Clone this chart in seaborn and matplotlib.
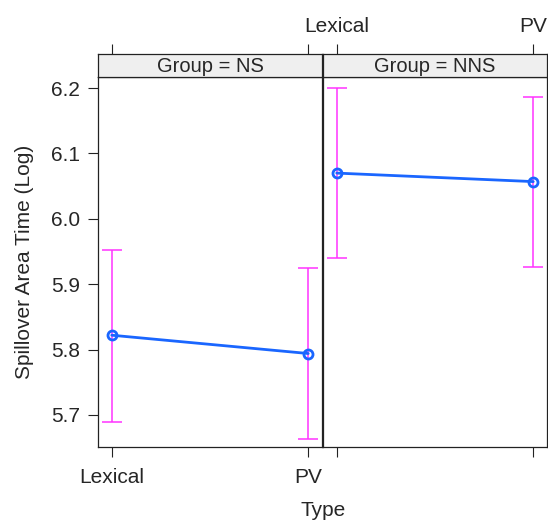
import numpy as np
import pandas as pd
import matplotlib
matplotlib.use("Agg")
import matplotlib.pyplot as plt
import seaborn as sns

# effect estimates
groups = ["NS", "NNS"]
types = ["Lexical", "PV"]
fit = {"NS": [5.822, 5.794], "NNS": [6.070, 6.057]}
lower = {"NS": [5.690, 5.663], "NNS": [5.940, 5.927]}
upper = {"NS": [5.953, 5.925], "NNS": [6.200, 6.187]}
yticks = [5.7, 5.8, 5.9, 6.0, 6.1, 6.2]

sns.set_style("white")
plt.rcParams["font.family"] = ["Liberation Sans", "DejaVu Sans"]

W, H = 548, 522
fig = plt.figure(figsize=(W / 100, H / 100), dpi=100)

line_col = "#1a66ff"
bar_col = "#ff33ff"
frame_col = "#222222"
fs = 15

def fx(px):
    return px / W

def fy(py):
    return 1 - py / H

panel_x = [98, 323]
panel_w = 224
top_px, bot_px, strip_top = 77, 447, 54

for i, g in enumerate(groups):
    ax = fig.add_axes([fx(panel_x[i]), fy(bot_px), fx(panel_w), (bot_px - top_px) / H])
    df = pd.DataFrame({"pos": [0, 1], "fit": fit[g], "lo": lower[g], "hi": upper[g]})
    ax.errorbar(df["pos"], df["fit"],
                yerr=[df["fit"] - df["lo"], df["hi"] - df["fit"]],
                fmt="none", ecolor=bar_col, elinewidth=1.1, capsize=7, capthick=1.1, zorder=1)
    sns.lineplot(data=df, x="pos", y="fit", ax=ax, color=line_col, lw=2, zorder=2)
    ax.plot(df["pos"], df["fit"], "o", mfc="none", mec=line_col, mew=2, ms=6.5, zorder=3)
    ax.set_xlim(-0.07, 1.07)
    ax.set_ylim(5.651, 6.217)
    ax.set_xticks([0, 1])
    ax.set_yticks(yticks)
    ax.tick_params(direction="out", length=7, width=0.8, color=frame_col, labelsize=fs,
                   bottom=True, left=(i == 0), top=False, right=False)
    ax.tick_params(axis="x", pad=8)
    ax.tick_params(axis="y", pad=6)
    if i == 0:
        ax.set_xticklabels(types)
        ax.set_yticklabels([f"{v:.1f}" for v in yticks])
        ax.set_ylabel("Spillover Area Time (Log)", fontsize=fs, labelpad=12)
    else:
        ax.set_xticklabels([])
        ax.tick_params(axis="y", left=False, labelleft=False)
        ax.set_ylabel("")
    ax.set_xlabel("")
    for s in ax.spines.values():
        s.set_color(frame_col)
        s.set_linewidth(0.9)

    # strip on top
    st = fig.add_axes([fx(panel_x[i]), fy(top_px), fx(panel_w), (top_px - strip_top) / H])
    st.set_facecolor("#efefef")
    st.set_xlim(-0.07, 1.07)
    st.set_ylim(0, 1)
    st.set_yticks([])
    st.set_xticks([0, 1])
    st.tick_params(axis="x", top=True, bottom=False, labeltop=(i == 1), labelbottom=False,
                   direction="out", length=7, width=0.8, color=frame_col, labelsize=fs, pad=6)
    if i == 1:
        st.set_xticklabels(types)
    st.text(0.5, 0.45, f"Group = {g}", ha="center", va="center", fontsize=14.5)
    for s in st.spines.values():
        s.set_color(frame_col)
        s.set_linewidth(0.9)

fig.text(fx(323), fy(511), "Type", ha="center", va="center", fontsize=fs)
fig.savefig("out.png", dpi=100)
